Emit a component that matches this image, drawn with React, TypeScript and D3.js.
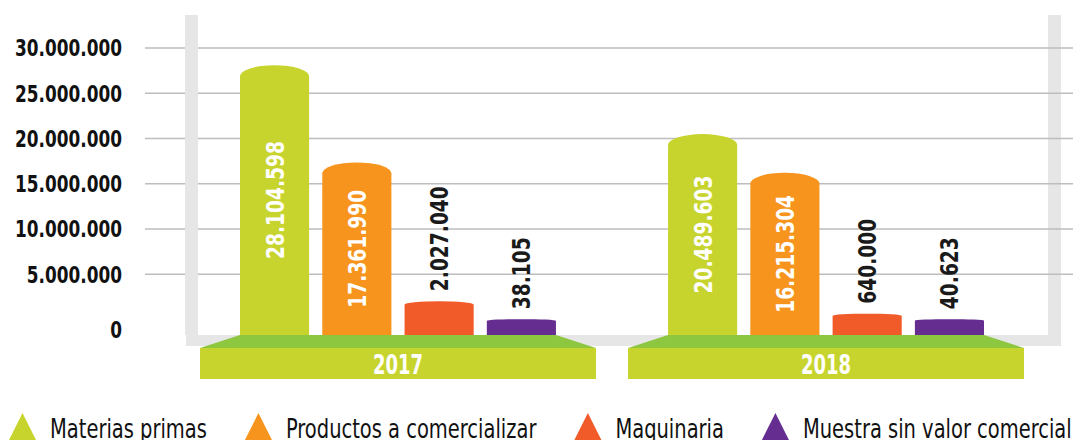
import React, { useEffect, useRef } from 'react';
import * as d3 from 'd3';

// values
const years = ['2017', '2018'];
const seriesNames = ['Materias primas', 'Productos a comercializar', 'Maquinaria', 'Muestra sin valor comercial'];
const seriesColors = ['#c8d42e', '#f7941d', '#f15a29', '#662d91'];
const values2017 = [28104598, 17361990, 2027040, 38105];
const values2018 = [20489603, 16215304, 640000, 40623];
const yTicks = [0, 5000000, 10000000, 15000000, 20000000, 25000000, 30000000];

const W = 1073;
const H = 440;
const FONT = '"DejaVu Sans Condensed", "DejaVu Sans", sans-serif';

const locale = d3.formatLocale({ decimal: ',', thousands: '.', grouping: [3], currency: ['', ''] });
const fmt = locale.format(',d');

export default function App() {
    const ref = useRef<SVGSVGElement>(null);

    useEffect(() => {
        const svg = d3.select(ref.current);
        svg.selectAll('*').remove();

        // the original face is a narrow gothic, so squeeze a condensed face horizontally
        function measure(str: string, size: number, weight: string) {
            const t = svg
                .append('text')
                .attr('font-family', FONT)
                .attr('font-weight', weight)
                .attr('font-size', size)
                .text(str);
            const w = (t.node() as SVGTextElement).getComputedTextLength();
            t.remove();
            return w;
        }
        const sxAxis = 107 / measure('30.000.000', 23, 'bold');
        const sxBar = 118 / measure('28.104.598', 25, 'bold');
        const sxYear = 50 / measure('2017', 26, 'bold');
        const sxLegend = 157 / measure('Materias primas', 27, 'normal');

        const floorY = 335;
        const y = d3.scaleLinear().domain([0, 30000000]).range([319.5, 48]);
        const x0 = d3.scaleBand().domain(years).range([200, 1024]).paddingInner(0.075);
        // bars sit on the top edge of each platform
        const inset = 40;
        const x1 = d3
            .scaleBand()
            .domain(seriesNames)
            .range([inset, x0.bandwidth() - inset])
            .paddingInner(0.16);

        const data = [values2017, values2018];

        // back walls + floor
        svg.append('rect').attr('x', 1048).attr('y', 15).attr('width', 13).attr('height', floorY - 15).attr('fill', '#e6e6e6');
        svg.append('rect').attr('x', 186).attr('y', floorY).attr('width', 875).attr('height', 11).attr('fill', '#e6e6e6');

        // grid lines
        svg.append('g')
            .selectAll('line')
            .data(yTicks.filter((d) => d > 0))
            .enter()
            .append('line')
            .attr('x1', 145)
            .attr('x2', W)
            .attr('y1', (d) => y(d))
            .attr('y2', (d) => y(d))
            .attr('stroke', '#bdbdbd')
            .attr('stroke-width', 1.5);

        svg.append('rect').attr('x', 185).attr('y', 15).attr('width', 13).attr('height', floorY - 15).attr('fill', '#e6e6e6');

        // y labels
        svg.append('g')
            .selectAll('text')
            .data(yTicks)
            .enter()
            .append('text')
            .attr('transform', (d) => `translate(122,${d === 0 ? y(d) + 10 : y(d)}) scale(${sxAxis},1)`)
            .attr('dy', '0.36em')
            .attr('text-anchor', 'end')
            .attr('font-family', FONT)
            .attr('font-weight', 'bold')
            .attr('font-size', 23)
            .attr('fill', '#111')
            .text((d) => fmt(d));

        years.forEach((yr, gi) => {
            const gx = x0(yr)!;
            const g = svg.append('g').attr('transform', 'translate(' + gx + ',0)');
            const bw = x0.bandwidth();

            // platform
            g.append('path')
                .attr('d', `M${inset},${floorY} L${bw - inset},${floorY} L${bw},${floorY + 13} L0,${floorY + 13} Z`)
                .attr('fill', '#8dc63f');
            g.append('rect')
                .attr('x', 0)
                .attr('y', floorY + 13)
                .attr('width', bw)
                .attr('height', 31)
                .attr('fill', '#c8d42e');
            g.append('text')
                .attr('transform', `translate(${bw / 2},${floorY + 39}) scale(${sxYear},1)`)
                .attr('text-anchor', 'middle')
                .attr('font-family', FONT)
                .attr('font-weight', 'bold')
                .attr('font-size', 26)
                .attr('fill', '#fff')
                .text(yr);

            data[gi].forEach((v, i) => {
                const bx = x1(seriesNames[i])!;
                const w = x1.bandwidth();
                const top = y(v);
                const h = floorY - top;
                const ry = Math.min(11, h * 0.1);
                g.append('path')
                    .attr(
                        'd',
                        `M${bx},${floorY} L${bx},${top + ry} A${w / 2},${ry} 0 0 1 ${bx + w},${top + ry} L${bx + w},${floorY} Z`
                    )
                    .attr('fill', seriesColors[i]);

                const inside = h > 150;
                const cx = bx + w / 2;
                const label = g
                    .append('text')
                    .attr('font-family', FONT)
                    .attr('font-weight', 'bold')
                    .attr('font-size', 25)
                    .attr('fill', inside ? '#fff' : '#1a1a1a')
                    .attr('dy', '0.36em')
                    .text(fmt(v));
                if (inside) {
                    label
                        .attr('text-anchor', 'middle')
                        .attr('transform', `translate(${cx},${(top + floorY) / 2}) rotate(-90) scale(${sxBar},1)`);
                } else {
                    label
                        .attr('text-anchor', 'start')
                        .attr('transform', `translate(${cx},${top - 10}) rotate(-90) scale(${sxBar},1)`);
                }
            });
        });

        // legend
        const legend = svg.append('g').attr('transform', 'translate(9,0)');
        let lx = 0;
        seriesNames.forEach((name, i) => {
            legend
                .append('path')
                .attr('d', `M${lx},440 L${lx + 13.5},413 L${lx + 27},440 Z`)
                .attr('fill', seriesColors[i]);
            const t = legend
                .append('text')
                .attr('transform', `translate(${lx + 41},438) scale(${sxLegend},1)`)
                .attr('font-family', FONT)
                .attr('font-size', 27)
                .attr('fill', '#111')
                .text(name);
            const tw = (t.node() as SVGTextElement).getComputedTextLength() * sxLegend;
            lx = lx + 41 + tw + 38;
        });
    }, []);

    return (
        <svg
            ref={ref}
            width={W}
            height={H}
            style={{ position: 'absolute', left: 0, top: 0, background: '#fff' }}
        />
    );
}
